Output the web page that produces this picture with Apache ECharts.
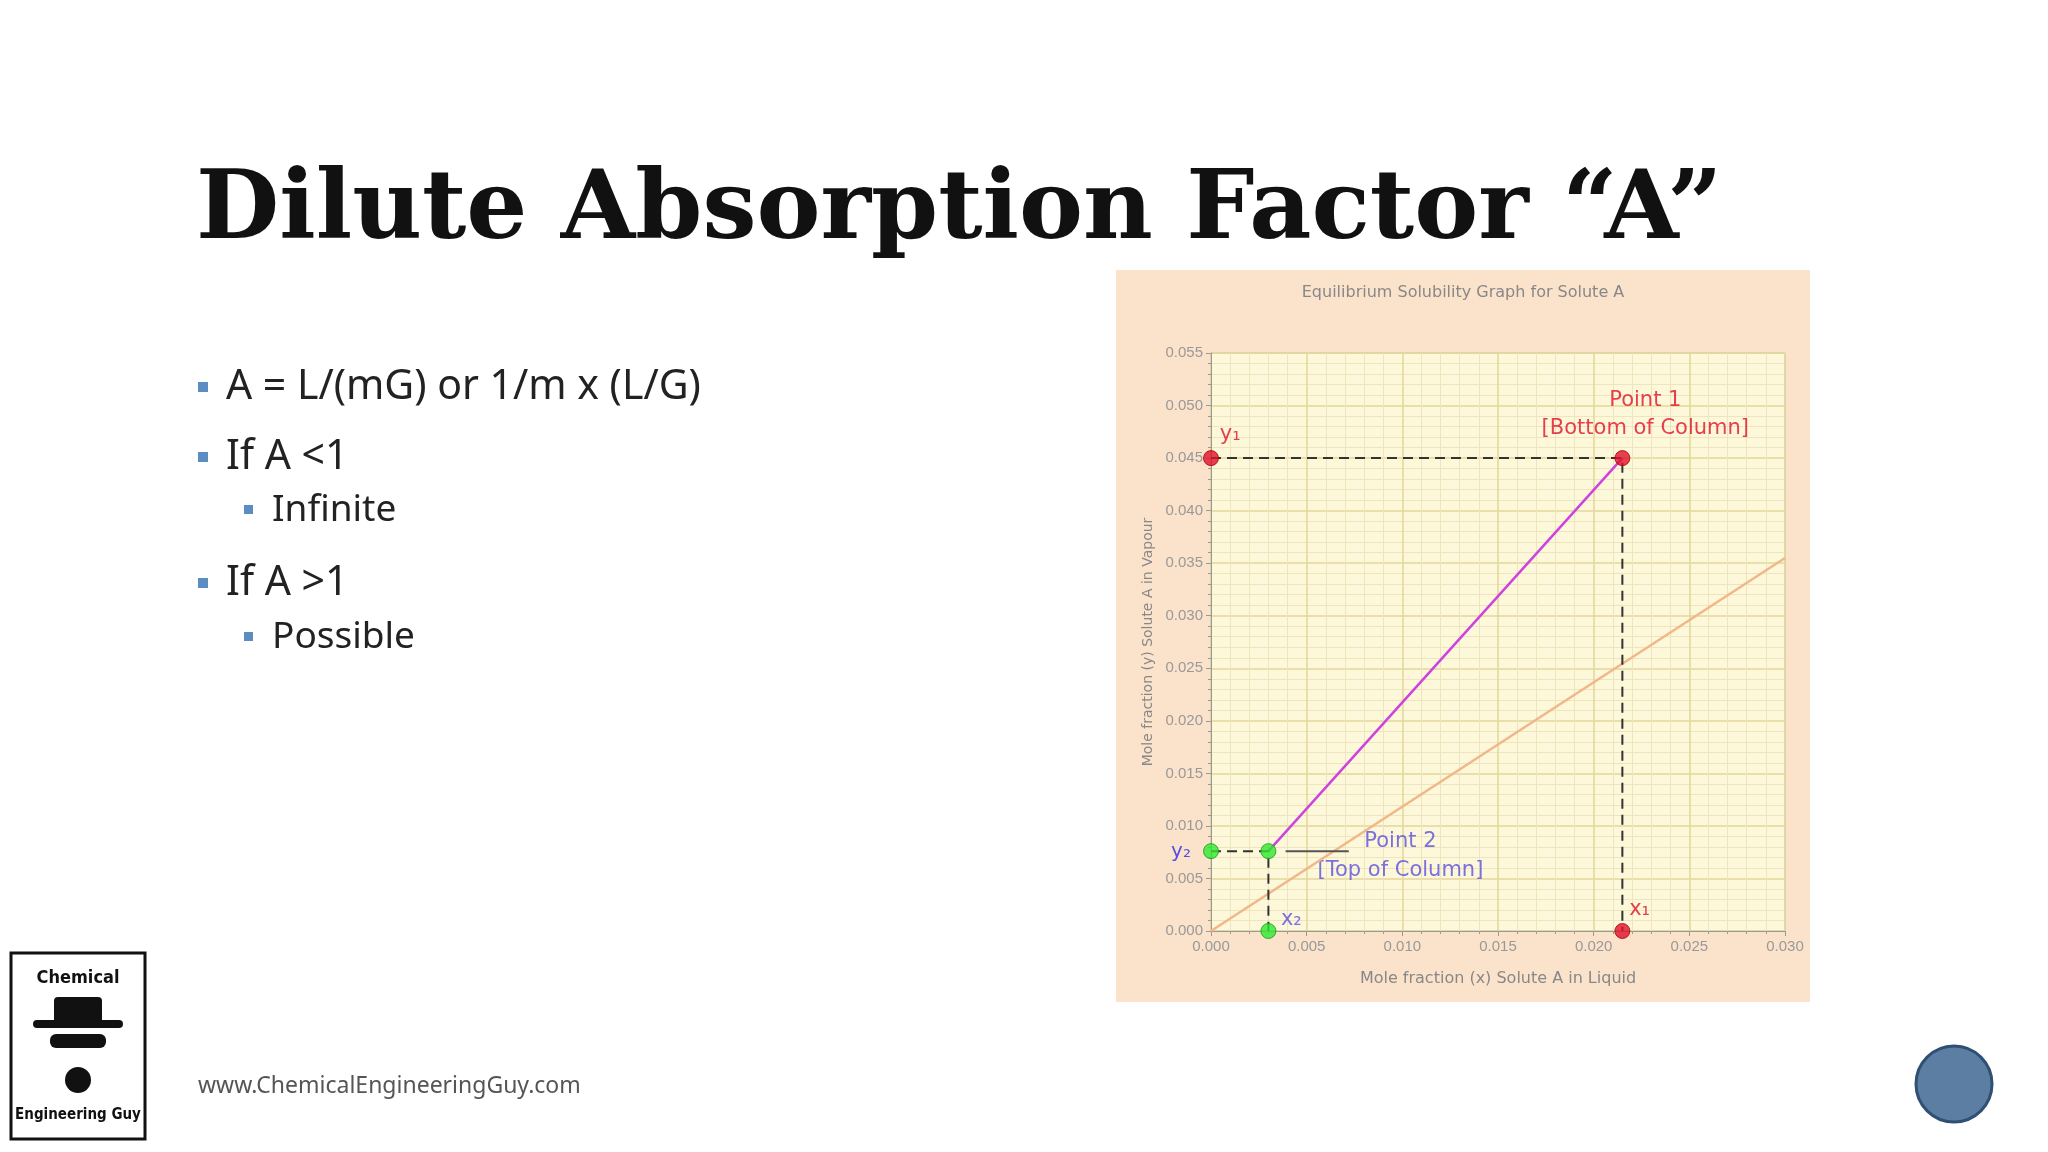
<!DOCTYPE html>
<html>
<head>
<meta charset="utf-8">
<script src="https://cdn.jsdelivr.net/npm/echarts@6/dist/echarts.min.js"></script>
<style>html,body{margin:0;padding:0;background:#fff}#main{width:2048px;height:1152px}</style>
</head>
<body>
<div id="main"></div>
<script>
// equilibrium line y = m x
const eqX = [0, 0.030];
const eqY = [0, 0.0355];
// operating line: top (point 2) to bottom (point 1)
const opX = [0.003, 0.0215];
const opY = [0.0076, 0.045];
const xTicks = ['0.000', '0.005', '0.010', '0.015', '0.020', '0.025', '0.030'];
const bullets = ['A = L/(mG) or 1/m x (L/G)', 'If A <1', 'Infinite', 'If A >1', 'Possible'];

const chart = echarts.init(document.getElementById('main'));

const red = '#e0102a', green = '#2ee82e';
const dash = { color: '#333', type: [10, 6], width: 2 };
const bodyFont = '"Noto Sans"';

chart.setOption({
  animation: false,
  graphic: [
    // chart panel background
    { type: 'rect', z: -10, shape: { x: 1116, y: 270, width: 694, height: 732 }, style: { fill: '#fbe2cb' } },
    { type: 'text', style: { x: 1463, y: 293, text: 'Equilibrium Solubility Graph for Solute A', fill: '#888', font: '16px "DejaVu Sans"', textAlign: 'center', textVerticalAlign: 'middle' } },
    // slide title
    { type: 'text', style: { x: 196, y: 213, text: 'Dilute Absorption Factor “A”', fill: '#111', font: 'bold 96px "DejaVu Serif"', textVerticalAlign: 'middle' } },
    // bullets
    { type: 'rect', shape: { x: 198, y: 382, width: 10, height: 10 }, style: { fill: '#5b8cc2' } },
    { type: 'text', style: { x: 226, y: 387, text: bullets[0], fill: '#222', font: '41px ' + bodyFont, textVerticalAlign: 'middle' } },
    { type: 'rect', shape: { x: 198, y: 452, width: 10, height: 10 }, style: { fill: '#5b8cc2' } },
    { type: 'text', style: { x: 226, y: 457, text: bullets[1], fill: '#222', font: '41px ' + bodyFont, textVerticalAlign: 'middle' } },
    { type: 'rect', shape: { x: 244, y: 505, width: 9, height: 9 }, style: { fill: '#5b8cc2' } },
    { type: 'text', style: { x: 272, y: 510, text: bullets[2], fill: '#222', font: '37px ' + bodyFont, textVerticalAlign: 'middle' } },
    { type: 'rect', shape: { x: 198, y: 578, width: 10, height: 10 }, style: { fill: '#5b8cc2' } },
    { type: 'text', style: { x: 226, y: 583, text: bullets[3], fill: '#222', font: '41px ' + bodyFont, textVerticalAlign: 'middle' } },
    { type: 'rect', shape: { x: 244, y: 632, width: 9, height: 9 }, style: { fill: '#5b8cc2' } },
    { type: 'text', style: { x: 272, y: 637, text: bullets[4], fill: '#222', font: '37px ' + bodyFont, textVerticalAlign: 'middle' } },
    // footer
    { type: 'text', style: { x: 198, y: 1086, text: 'www.ChemicalEngineeringGuy.com', fill: '#555', font: '23px ' + bodyFont, textVerticalAlign: 'middle' } },
    // logo
    { type: 'rect', shape: { x: 11, y: 953, width: 134, height: 186 }, style: { fill: '#fff', stroke: '#111', lineWidth: 3 } },
    { type: 'text', style: { x: 78, y: 978, text: 'Chemical', fill: '#111', font: 'bold 18px "DejaVu Sans Condensed"', textAlign: 'center', textVerticalAlign: 'middle' } },
    { type: 'rect', shape: { x: 54, y: 997, width: 48, height: 26, r: 4 }, style: { fill: '#111' } },
    { type: 'rect', shape: { x: 33, y: 1020, width: 90, height: 8, r: 4 }, style: { fill: '#111' } },
    { type: 'rect', shape: { x: 50, y: 1034, width: 56, height: 14, r: 6 }, style: { fill: '#111' } },
    { type: 'circle', shape: { cx: 78, cy: 1080, r: 13 }, style: { fill: '#111' } },
    { type: 'text', style: { x: 78, y: 1115, text: 'Engineering Guy', fill: '#111', font: 'bold 15px "DejaVu Sans Condensed"', textAlign: 'center', textVerticalAlign: 'middle' } },
    // y2 label (outside the plot area)
    { type: 'text', style: { x: 1181, y: 852, text: 'y₂', fill: '#5a4ee0', font: '20px "DejaVu Sans"', textAlign: 'center', textVerticalAlign: 'middle' } },
    // nav circle
    { type: 'circle', shape: { cx: 1954, cy: 1084, r: 38 }, style: { fill: '#5d7ea3', stroke: '#2f4f74', lineWidth: 3 } }
  ],
  grid: { left: 1211, right: 263, top: 353, bottom: 221, show: true, backgroundColor: '#fdf8d9', borderColor: '#bbb' },
  xAxis: {
    type: 'value', min: 0, max: 0.030, interval: 0.005,
    name: 'Mole fraction (x) Solute A in Liquid', nameLocation: 'middle', nameGap: 40,
    nameTextStyle: { color: '#888', fontSize: 16, fontFamily: 'DejaVu Sans' },
    axisLine: { lineStyle: { color: '#999' } },
    axisTick: { show: true, lineStyle: { color: '#999' } },
    minorTick: { show: true, splitNumber: 5 },
    axisLabel: { color: '#999', fontSize: 15, formatter: (v, i) => xTicks[i] },
    splitLine: { lineStyle: { color: '#e3d79a', width: 1.5 } },
    minorSplitLine: { show: true, lineStyle: { color: '#eee4bd' } }
  },
  yAxis: {
    type: 'value', min: 0, max: 0.055, interval: 0.005,
    name: 'Mole fraction (y) Solute A in Vapour', nameLocation: 'middle', nameGap: 56,
    nameTextStyle: { color: '#888', fontSize: 14, fontFamily: 'DejaVu Sans' },
    axisLine: { show: true, lineStyle: { color: '#999' } },
    axisTick: { show: true, lineStyle: { color: '#999' } },
    minorTick: { show: true, splitNumber: 5 },
    axisLabel: { color: '#999', fontSize: 15, formatter: v => v.toFixed(3) },
    splitLine: { lineStyle: { color: '#e3d79a', width: 1.5 } },
    minorSplitLine: { show: true, lineStyle: { color: '#eee4bd' } }
  },
  series: [
    { type: 'line', symbol: 'none', data: eqX.map((x, i) => [x, eqY[i]]), lineStyle: { color: '#f0b88a', width: 2.5 } },
    { type: 'line', symbol: 'none', data: opX.map((x, i) => [x, opY[i]]), lineStyle: { color: '#cc44dd', width: 2.5 } },
    // dashed guides
    { type: 'line', symbol: 'none', data: [[0, opY[1]], [opX[1], opY[1]], [opX[1], 0]], lineStyle: dash },
    { type: 'line', symbol: 'none', data: [[0, opY[0]], [opX[0], opY[0]], [opX[0], 0]], lineStyle: dash },
    // pointer line to Point 2 label
    { type: 'line', symbol: 'none', data: [[0.0039, opY[0]], [0.0072, opY[0]]], lineStyle: { color: '#555', width: 2 } },
    {
      type: 'scatter', symbolSize: 15, z: 5,
      itemStyle: { color: red, borderColor: '#a00', borderWidth: 1 },
      data: [[0, opY[1]], [opX[1], opY[1]], [opX[1], 0]]
    },
    {
      type: 'scatter', symbolSize: 15, z: 5,
      itemStyle: { color: green, borderColor: '#1a9a1a', borderWidth: 1 },
      data: [[0, opY[0]], [opX[0], opY[0]], [opX[0], 0]]
    },
    // text annotations
    {
      type: 'scatter', symbolSize: 0, silent: true,
      label: { show: true, formatter: p => p.data[2], color: red, fontSize: 21, fontFamily: 'DejaVu Sans', align: 'center' },
      data: [
        [0.0227, 0.0505, 'Point 1'],
        [0.0227, 0.0478, '[Bottom of Column]'],
        [0.001, 0.0472, 'y₁'],
        [0.0224, 0.0020, 'x₁']
      ]
    },
    {
      type: 'scatter', symbolSize: 0, silent: true,
      label: { show: true, formatter: p => p.data[2], color: '#5a4ee0', fontSize: 21, fontFamily: 'DejaVu Sans', align: 'center' },
      data: [
        [0.0099, 0.0085, 'Point 2'],
        [0.0099, 0.0058, '[Top of Column]'],
        [0.0042, 0.0011, 'x₂']
      ]
    }
  ]
});
</script>
</body>
</html>
